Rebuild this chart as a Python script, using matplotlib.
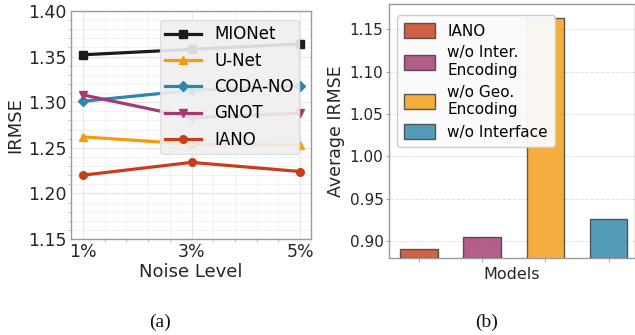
import matplotlib
matplotlib.use("Agg")
import matplotlib.pyplot as plt
from matplotlib.ticker import AutoMinorLocator, MultipleLocator

# (a) gürültü seviyesine göre IRMSE
noise_levels = ["1%", "3%", "5%"]
mionet = [1.352, 1.358, 1.364]
unet = [1.262, 1.254, 1.253]
coda_no = [1.301, 1.313, 1.318]
gnot = [1.308, 1.283, 1.288]
iano = [1.220, 1.234, 1.224]

# (b) ablasyon
ablation_labels = ["IANO", "w/o Inter.\nEncoding", "w/o Geo.\nEncoding", "w/o Interface"]
ablation_vals = [0.891, 0.905, 1.163, 0.926]

line_series = [
    ("MIONet", mionet, "#1b1b1b", "s"),
    ("U-Net", unet, "#f39c12", "^"),
    ("CODA-NO", coda_no, "#2e86ab", "D"),
    ("GNOT", gnot, "#a23b72", "v"),
    ("IANO", iano, "#c73e1d", "o"),
]
bar_colors = ["#c73e1d", "#a23b72", "#f39c12", "#2e86ab"]

W, H = 635, 335
fig = plt.figure(figsize=(W / 100, H / 100), dpi=100, facecolor="white")

SPINE = "#9a9a9a"
TXT = "#262626"

# ---- (a) ----
ax1 = fig.add_axes([71 / W, (H - 239) / H, 240 / W, 228 / H])
x = list(range(len(noise_levels)))
for name, vals, col, mk in line_series:
    ax1.plot(x, vals, color=col, marker=mk, lw=2.3, ms=5.5, label=name, zorder=3)
ax1.set_xlim(-0.11, 2.1)
ax1.set_ylim(1.15, 1.40)
ax1.set_xticks(x)
ax1.set_xticklabels(noise_levels)
ax1.yaxis.set_major_locator(MultipleLocator(0.05))
ax1.xaxis.set_minor_locator(AutoMinorLocator(5))
ax1.yaxis.set_minor_locator(AutoMinorLocator(5))
ax1.grid(which="major", color="#e6e6e6", lw=0.8, zorder=0)
ax1.grid(which="minor", color="#f0f0f0", lw=0.6, zorder=0)
ax1.tick_params(which="major", labelsize=12.5, length=0, pad=3, colors=TXT)
ax1.tick_params(which="minor", length=2.5, width=0.6, color="#bbbbbb")
for s in ax1.spines.values():
    s.set_color(SPINE)
    s.set_linewidth(1.0)
ax1.set_xlabel("Noise Level", fontsize=13, color=TXT, labelpad=1)
ax1.set_ylabel("IRMSE", fontsize=13, color=TXT, labelpad=3)
leg1 = ax1.legend(loc="upper right", fontsize=12, frameon=True, fancybox=True,
                  borderpad=0.3, labelspacing=0.5, handlelength=2.2,
                  bbox_to_anchor=(0.985, 0.995))
leg1.get_frame().set_facecolor("#efefef")
leg1.get_frame().set_edgecolor("#dddddd")
leg1.get_frame().set_alpha(0.9)

# ---- (b) ----
ax2 = fig.add_axes([389 / W, (H - 258) / H, 246 / W, 254 / H])
bx = list(range(len(ablation_vals)))
ax2.bar(bx, ablation_vals, width=0.6, color=bar_colors, alpha=0.82,
        edgecolor="#3a3a3a", linewidth=1.0, label=ablation_labels, zorder=3)
ax2.set_xlim(-0.48, 3.42)
ax2.set_ylim(0.88, 1.18)
ax2.yaxis.set_major_locator(MultipleLocator(0.05))
ax2.set_xticks(bx)
ax2.set_xticklabels([])
ax2.grid(axis="y", color="#e3e3e3", lw=0.7, ls="--", zorder=0)
ax2.tick_params(axis="y", labelsize=11, length=2, width=0.6, pad=2,
                colors=TXT, color="#999999")
ax2.tick_params(axis="x", length=3, width=0.6, color="#999999")
for s in ax2.spines.values():
    s.set_color(SPINE)
    s.set_linewidth(1.0)
ax2.set_xlabel("Models", fontsize=11.5, color=TXT, labelpad=0)
ax2.set_ylabel("Average IRMSE", fontsize=12.5, color=TXT, labelpad=3)
leg2 = ax2.legend(loc="upper left", fontsize=11, frameon=True, fancybox=True,
                  borderpad=0.5, labelspacing=0.45, handlelength=2.0,
                  handleheight=1.1, bbox_to_anchor=(0.0, 0.985))
leg2.get_frame().set_facecolor("#fafafa")
leg2.get_frame().set_edgecolor("#cccccc")
leg2.get_frame().set_alpha(0.95)
leg2.set_zorder(5)

# alt yazılar
fig.text(160 / W, 1 - 322 / H, "(a)", family="Liberation Serif", fontsize=14,
         ha="center", va="center", color="#111111")
fig.text(487 / W, 1 - 322 / H, "(b)", family="Liberation Serif", fontsize=14,
         ha="center", va="center", color="#111111")

fig.savefig("out.png", dpi=100)
